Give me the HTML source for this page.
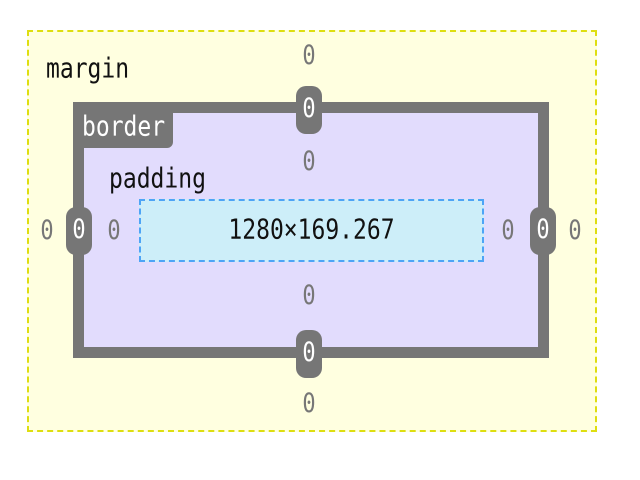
<!DOCTYPE html><html><head><style>
body{margin:0;width:640px;height:480px;background:#fff;position:relative;font-family:"DejaVu Sans Mono","Liberation Mono",monospace;overflow:hidden}
div{position:absolute;box-sizing:border-box}
.t{font-size:23px;color:#111;line-height:1;transform:scaleY(1.2);transform-origin:0 50%}
.z{font-size:22px;color:#777;line-height:1;width:24px;text-align:center;transform:scaleY(1.2)}
.pill{background:#767676;border-radius:10px;color:#fff;font-size:22px;text-align:center;width:26px;height:48px;line-height:48px}
.pill span{display:inline-block;transform:scaleY(1.2)}
</style></head><body>
<div style="left:27px;top:30px;width:570px;height:402px;background:#ffffe0;border:2px dashed #dede10"></div>
<div class="t" style="left:46px;top:58px">margin</div>
<div style="left:73px;top:102px;width:476px;height:256px;background:#e2dcfd;border:11px solid #767676"></div>
<div style="left:73px;top:102px;width:100px;height:46px;background:#767676;border-radius:0 0 6px 0"></div>
<div class="t" style="left:82px;top:116px;color:#fff">border</div>
<div class="t" style="left:109px;top:168px">padding</div>
<div style="left:139px;top:199px;width:345px;height:63px;background:#cdeef9;border:2px dashed #4da4f6"></div>
<div class="t" style="left:139px;top:219px;width:345px;text-align:center;transform-origin:50% 50%">1280×169.267</div>
<div class="z" style="left:297px;top:46px">0</div>
<div class="pill" style="left:296px;top:86px"><span>0</span></div>
<div class="z" style="left:297px;top:152px">0</div>
<div class="z" style="left:297px;top:286px">0</div>
<div class="pill" style="left:296px;top:330px"><span>0</span></div>
<div class="z" style="left:297px;top:394px">0</div>
<div class="z" style="left:35px;top:221px">0</div>
<div class="pill" style="left:66px;top:207px"><span>0</span></div>
<div class="z" style="left:102px;top:221px">0</div>
<div class="z" style="left:496px;top:221px">0</div>
<div class="pill" style="left:530px;top:207px"><span>0</span></div>
<div class="z" style="left:563px;top:221px">0</div>
</body></html>
